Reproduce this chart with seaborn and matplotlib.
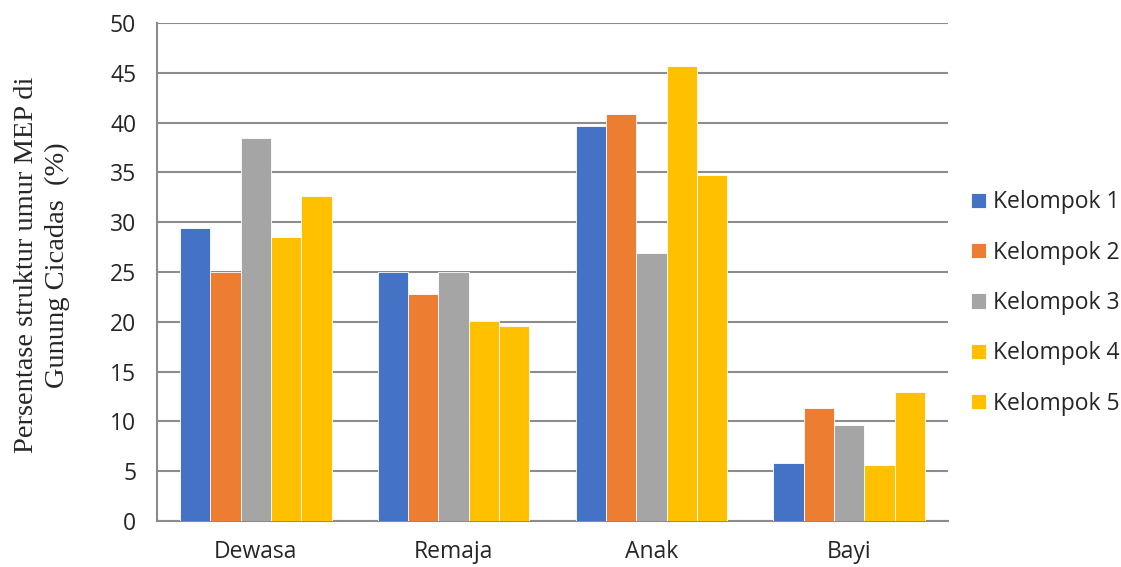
import matplotlib
matplotlib.use("Agg")
import matplotlib.pyplot as plt
import seaborn as sns
import pandas as pd

categories = ["Dewasa", "Remaja", "Anak", "Bayi"]
groups = ["Kelompok 1", "Kelompok 2", "Kelompok 3", "Kelompok 4", "Kelompok 5"]
kelompok1 = [29.4, 25.0, 39.7, 5.8]
kelompok2 = [25.0, 22.75, 40.9, 11.35]
kelompok3 = [38.45, 25.0, 26.95, 9.6]
kelompok4 = [28.55, 20.05, 45.7, 5.65]
kelompok5 = [32.6, 19.55, 34.75, 13.0]
yticks = [0, 5, 10, 15, 20, 25, 30, 35, 40, 45, 50]
colors = ["#4472C4", "#ED7D31", "#A5A5A5", "#FFC000", "#FFC000"]

series = [kelompok1, kelompok2, kelompok3, kelompok4, kelompok5]
rows = []
for g, vals in zip(groups, series):
    for c, v in zip(categories, vals):
        rows.append({"Kategori": c, "Kelompok": g, "Nilai": v})
df = pd.DataFrame(rows)

sns.set_style("white")
plt.rcParams['font.family'] = ['Open Sans', 'DejaVu Sans']

FS = 16.5
fig = plt.figure(figsize=(11.21, 5.67), dpi=100)
ax = fig.add_axes([157/1121, 1 - 521/567, (948-157)/1121, (521-23)/567])

sns.barplot(data=df, x="Kategori", y="Nilai", hue="Kelompok", order=categories,
            hue_order=groups, palette=colors, width=0.767, saturation=1,
            edgecolor="white", linewidth=0.6, errorbar=None, ax=ax, zorder=3)

ax.set_ylim(0, 50)
ax.set_yticks(yticks)
ax.set_yticklabels([str(t) for t in yticks])
ax.set_xlim(-0.5, 3.5)
ax.yaxis.grid(True, color="#8C8C8C", linewidth=1.5, zorder=0)
ax.set_axisbelow(True)
for s in ["top", "right"]:
    ax.spines[s].set_visible(False)
for s in ["left", "bottom"]:
    ax.spines[s].set_color("#8C8C8C")
    ax.spines[s].set_linewidth(1.5)
ax.tick_params(axis="y", length=9, width=1.5, color="#8C8C8C", pad=6, labelsize=FS)
ax.tick_params(axis="x", length=0, pad=14, labelsize=FS)
ax.set_xlabel("")
ax.set_ylabel("Persentase struktur umur MEP di\nGunung Cicadas  (%)",
              family="Liberation Serif", fontsize=20.5, linespacing=1.3)
ax.yaxis.set_label_coords((70 - 157) / 791, (521 - 265) / 498)

handles, labels = ax.get_legend_handles_labels()
ax.legend(handles, labels, loc="center left", bbox_to_anchor=(971/1121, 1 - 303/567),
          bbox_transform=fig.transFigure, frameon=False, fontsize=FS, borderpad=0,
          borderaxespad=0, handlelength=0.66, handleheight=0.66, handletextpad=0.3,
          labelspacing=1.15)

fig.savefig("out.png", dpi=100)
